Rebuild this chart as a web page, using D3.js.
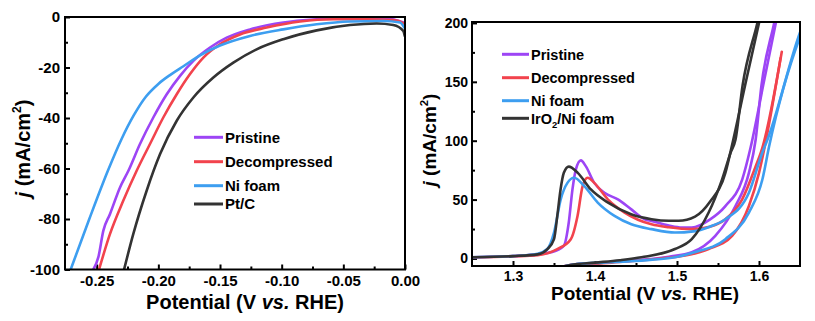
<!DOCTYPE html>
<html>
<head>
<meta charset="utf-8">
<script src="https://cdn.jsdelivr.net/npm/d3@7"></script>
<style>
    body { margin: 0; background: #fff; }
    svg text { font-family: "Liberation Sans", Arial, sans-serif; font-weight: bold; fill: #000; }
</style>
</head>
<body>
<svg id="chart" width="815" height="321"></svg>
<script>
// HER polarization curves: [potential (V vs RHE), j (mA/cm2)]
const herPristine = [[-0.2527, -100], [-0.2486, -95], [-0.2446, -84.6], [-0.2392, -78], [-0.2311, -67.5],
    [-0.2243, -60.9], [-0.2149, -50.3], [-0.2041, -39.8], [-0.1932, -30.6], [-0.1824, -23.3], [-0.1716, -17.4],
    [-0.1581, -12.1], [-0.1446, -8.2], [-0.1257, -4.9], [-0.0987, -2.2], [-0.0716, -0.9], [-0.0446, -0.3],
    [-0.0176, -0.5], [-0.0014, -2.2], [0, -3]];
const herDecompressed = [[-0.2481, -100], [-0.2392, -85.9], [-0.2284, -72.7], [-0.2176, -60.9],
    [-0.2068, -50.3], [-0.196, -39.8], [-0.1851, -30.6], [-0.1743, -22.6], [-0.1635, -16.1], [-0.15, -10.8],
    [-0.1338, -6.9], [-0.1122, -4.2], [-0.0851, -1.8], [-0.0581, -0.9], [-0.031, -0.9], [-0.0095, -1.2],
    [-0.0008, -2.6], [0, -3.5]];
const herNiFoam = [[-0.2711, -100], [-0.256, -80], [-0.2406, -60.5], [-0.23, -48.5], [-0.22, -39], [-0.21, -31.5],
    [-0.20, -26.5], [-0.19, -22.8], [-0.18, -19.6], [-0.1662, -15.2], [-0.15, -11.3], [-0.1257, -7.5],
    [-0.0987, -4.9], [-0.0716, -2.9], [-0.0446, -1.8], [-0.0176, -1.6], [-0.004, -2.2], [-0.0006, -4.2]];
const herPtC = [[-0.2278, -100], [-0.2203, -85.9], [-0.2095, -68.8], [-0.1986, -54.3],
    [-0.1851, -41.1], [-0.1716, -31.9], [-0.1554, -24], [-0.1392, -18.1], [-0.1203, -12.8], [-0.0987, -8.8],
    [-0.0716, -5.3], [-0.0446, -3.2], [-0.023, -2.6], [-0.0095, -3.2], [-0.0014, -5.5], [-0.0002, -7.5]];

// OER cyclic scans, split into forward (anodic) and reverse branches
const oerPristineFwd = [[1.25, 1], [1.30, 2], [1.33, 3.5], [1.346, 5.2], [1.362, 10.8], [1.368, 30.5], [1.3725, 58.6],
    [1.3766, 75.5], [1.3828, 83.3], [1.3889, 78.2], [1.3991, 64.2], [1.4115, 55.8], [1.4279, 50.2], [1.4443, 41.7],
    [1.4607, 33.3], [1.4689, 31.9], [1.49, 28], [1.506, 26.3], [1.518, 26.3], [1.54, 33], [1.559, 44.5],
    [1.5795, 67], [1.5897, 94], [1.6051, 147], [1.6205, 200], [1.625, 215]];
const oerPristineRev = [[1.623, 215], [1.6185, 200], [1.603, 147], [1.5959, 100.8], [1.5877, 72.7], [1.5713, 44.5],
    [1.5467, 19.2], [1.518, 5.2], [1.49, 1.5], [1.46, -1], [1.43, -2.5], [1.40, -4], [1.37, -5.5], [1.36, -7]];
const oerDecompressedFwd = [[1.25, 1], [1.30, 1.8], [1.33, 2.8], [1.354, 8], [1.3705, 16.4], [1.3787, 36.1],
    [1.3849, 61.4], [1.391, 68.5], [1.3991, 64.2], [1.4156, 50.2], [1.4361, 39], [1.4689, 29], [1.49, 26.5],
    [1.518, 24.9], [1.54, 27], [1.559, 33.3], [1.5795, 50.2], [1.5959, 78.2], [1.6041, 94], [1.6278, 175.5]];
const oerDecompressedRev = [[1.6262, 170], [1.6062, 92.3], [1.6, 72.7], [1.5877, 44.5], [1.5672, 19.2], [1.5386, 8],
    [1.51, 2.5], [1.48, 0], [1.45, -2], [1.42, -3.5], [1.39, -5], [1.37, -5.5], [1.36, -7]];
const oerNiFoamFwd = [[1.25, 1], [1.30, 2], [1.33, 4], [1.3418, 8], [1.35, 22], [1.3582, 50.2], [1.3664, 64.2],
    [1.3746, 68.5], [1.3869, 61.4], [1.4033, 47.4], [1.4238, 36.1], [1.4443, 29], [1.4689, 24.9], [1.4975, 22],
    [1.52, 23], [1.54, 27], [1.559, 33.3], [1.5877, 55.8], [1.6041, 90], [1.6103, 100.8], [1.65, 192], [1.66, 210]];
const oerNiFoamRev = [[1.66, 205], [1.65, 188], [1.6123, 95], [1.6041, 67], [1.5877, 39], [1.559, 16.4], [1.52, 5],
    [1.4975, 1], [1.47, -1], [1.44, -2.5], [1.41, -3.5], [1.38, -4.5], [1.36, -7]];
const oerIrO2Fwd = [[1.25, 1], [1.30, 2], [1.33, 3.5], [1.342, 8], [1.35, 16.4], [1.354, 36], [1.358, 58.6],
    [1.362, 72.7], [1.368, 78], [1.379, 72.7], [1.395, 58.6], [1.416, 47.4], [1.444, 37.5], [1.469, 33.3],
    [1.49, 32], [1.502, 32], [1.522, 35.6], [1.54, 48], [1.559, 72.7], [1.5664, 94], [1.583, 147], [1.60, 200],
    [1.605, 215]];
const oerIrO2Rev = [[1.603, 215], [1.598, 200], [1.58, 147], [1.5713, 100.8], [1.5652, 89.5], [1.5549, 67],
    [1.5386, 39], [1.518, 16.4], [1.4975, 8], [1.4566, 1], [1.43, -1.5], [1.40, -3.5], [1.37, -5.5], [1.36, -7]];

const herLabels = ["Pristine", "Decompressed", "Ni foam", "Pt/C"];
const oerLabels = ["Pristine", "Decompressed", "Ni foam", "IrO2/Ni foam"];
const colours = ["#9d45f5", "#f2434d", "#3d9ef0", "#333333"];

const herXTicks = [-0.25, -0.20, -0.15, -0.10, -0.05, 0.00];
const herXMinor = [-0.225, -0.175, -0.125, -0.075, -0.025];
const herYTicks = [0, -20, -40, -60, -80, -100];
const herYMinor = [-10, -30, -50, -70, -90];
const oerXTicks = [1.3, 1.4, 1.5, 1.6];
const oerXMinor = [1.35, 1.45, 1.55];
const oerYTicks = [0, 50, 100, 150, 200];
const oerYMinor = [25, 75, 125, 175];

const svg = d3.select("#chart");

const addFrameAndAxes = (g, p) => {
    const [x0, x1] = p.x.range();
    const [y1, y0] = p.y.range();

    g.append("clipPath").attr("id", p.id + "-clip")
        .append("rect").attr("x", x0).attr("y", y0).attr("width", x1 - x0).attr("height", y1 - y0);

    const style = (a, size) => a.call(s => s.select(".domain").remove())
        .call(s => s.selectAll(".tick line").attr("stroke", "#000").attr("stroke-width", 2))
        .call(s => s.selectAll("text").attr("font-size", size).attr("font-family", null));

    g.append("g").attr("transform", "translate(0," + y1 + ")")
        .call(d3.axisBottom(p.x).tickValues(p.xMinor).tickSize(-3).tickFormat(""))
        .call(a => style(a, p.tickFont));
    g.append("g").attr("transform", "translate(0," + y1 + ")")
        .call(d3.axisBottom(p.x).tickValues(p.xTicks).tickSize(-5).tickPadding(p.xPad).tickFormat(p.xFormat))
        .call(a => style(a, p.tickFont));
    g.append("g").attr("transform", "translate(" + x0 + ",0)")
        .call(d3.axisLeft(p.y).tickValues(p.yMinor).tickSize(-3).tickFormat(""))
        .call(a => style(a, p.tickFont));
    g.append("g").attr("transform", "translate(" + x0 + ",0)")
        .call(d3.axisLeft(p.y).tickValues(p.yTicks).tickSize(-5).tickPadding(p.yPad).tickFormat(p.yFormat))
        .call(a => style(a, p.tickFont));

    // x axis title
    const xt = g.append("text")
        .attr("x", p.xTitle[0]).attr("y", p.xTitle[1])
        .attr("text-anchor", "middle").attr("font-size", p.titleFont);
    xt.append("tspan").text("Potential (V ");
    xt.append("tspan").attr("font-style", "italic").text("vs.");
    xt.append("tspan").text(" RHE)");

    // y axis title
    const yt = g.append("text")
        .attr("transform", "translate(" + p.yTitle[0] + "," + p.yTitle[1] + ") rotate(-90)")
        .attr("text-anchor", "middle").attr("font-size", p.titleFont);
    yt.append("tspan").attr("font-style", "italic").text("j");
    yt.append("tspan").text(" (mA/cm");
    yt.append("tspan").attr("font-size", p.titleFont * 0.6).attr("dy", -p.titleFont * 0.42).text("2");
    yt.append("tspan").attr("dy", p.titleFont * 0.42).text(")");
};

const addCurves = (g, p, branches) => {
    const line = d3.line()
        .x(d => p.x(d[0]))
        .y(d => p.y(d[1]))
        .curve(d3.curveMonotoneX);
    g.append("g").attr("clip-path", "url(#" + p.id + "-clip)")
        .selectAll("path")
        .data(branches)
        .join("path")
        .attr("d", b => line(b.values))
        .attr("fill", "none")
        .attr("stroke", b => colours[b.series])
        .attr("stroke-width", 2.6)
        .attr("stroke-linejoin", "round")
        .attr("stroke-linecap", "round");
};

const addFrame = (g, p) => {
    const [x0, x1] = p.x.range();
    const [y1, y0] = p.y.range();
    g.append("rect")
        .attr("x", x0).attr("y", y0).attr("width", x1 - x0).attr("height", y1 - y0)
        .attr("fill", "none").attr("stroke", "#000").attr("stroke-width", 2);
};

const addLegend = (g, p, labels) => {
    const rows = g.selectAll(".legend")
        .data(labels)
        .join("g")
        .attr("class", "legend")
        .attr("transform", (d, i) => "translate(" + p.legend.x + "," + p.legend.rows[i] + ")");
    rows.append("line")
        .attr("x1", 0).attr("x2", p.legend.len)
        .attr("stroke", (d, i) => colours[i]).attr("stroke-width", 3);
    rows.append("text")
        .attr("x", p.legend.len + 2).attr("y", p.legend.font * 0.36)
        .attr("font-size", p.legend.font)
        .each(function (d) {
            const t = d3.select(this);
            const m = d.match(/^(.*O)2(\/.*)$/);
            if (m) {
                t.append("tspan").text(m[1]);
                t.append("tspan").attr("font-size", p.legend.font * 0.65).attr("dy", 4).text("2");
                t.append("tspan").attr("dy", -4).text(m[2]);
            } else {
                t.text(d);
            }
        });
};

const hyphen = s => s.replace("\u2212", "-");

// Left panel: HER
const her = {
    id: "her",
    x: d3.scaleLinear().domain([-0.2757, 0]).range([65, 405]),
    y: d3.scaleLinear().domain([-100, 0]).range([269.5, 17]),
    xTicks: herXTicks, xMinor: herXMinor, yTicks: herYTicks, yMinor: herYMinor,
    xFormat: v => hyphen(d3.format(".2f")(v)), yFormat: v => hyphen(d3.format("d")(v)),
    xPad: 6, yPad: 5, tickFont: 15, titleFont: 20,
    xTitle: [245, 309], yTitle: [29.5, 148.5],
    legend: {x: 194, len: 29, font: 15, rows: [137.3, 161.7, 185.7, 204]}
};

// Right panel: OER
const oer = {
    id: "oer",
    x: d3.scaleLinear().domain([1.25, 1.65]).range([472, 800]),
    y: d3.scaleLinear().domain([-6.4, 200.8]).range([266, 22]),
    xTicks: oerXTicks, xMinor: oerXMinor, yTicks: oerYTicks, yMinor: oerYMinor,
    xFormat: d3.format(".1f"), yFormat: d3.format("d"),
    xPad: 5, yPad: 4, tickFont: 14, titleFont: 19,
    xTitle: [645, 300], yTitle: [436, 140],
    legend: {x: 502, len: 27, font: 14.5, rows: [54.3, 77.7, 100.7, 118.3]}
};

const gHer = svg.append("g");
addFrameAndAxes(gHer, her);
addCurves(gHer, her, [herPristine, herDecompressed, herNiFoam, herPtC].map((values, series) => ({values, series})));
addFrame(gHer, her);
addLegend(gHer, her, herLabels);

const gOer = svg.append("g");
addFrameAndAxes(gOer, oer);
addCurves(gOer, oer, [
    [oerPristineFwd, 0], [oerPristineRev, 0],
    [oerDecompressedFwd, 1], [oerDecompressedRev, 1],
    [oerNiFoamFwd, 2], [oerNiFoamRev, 2],
    [oerIrO2Fwd, 3], [oerIrO2Rev, 3]
].map(([values, series]) => ({values, series})));
addFrame(gOer, oer);
addLegend(gOer, oer, oerLabels);
</script>
</body>
</html>
